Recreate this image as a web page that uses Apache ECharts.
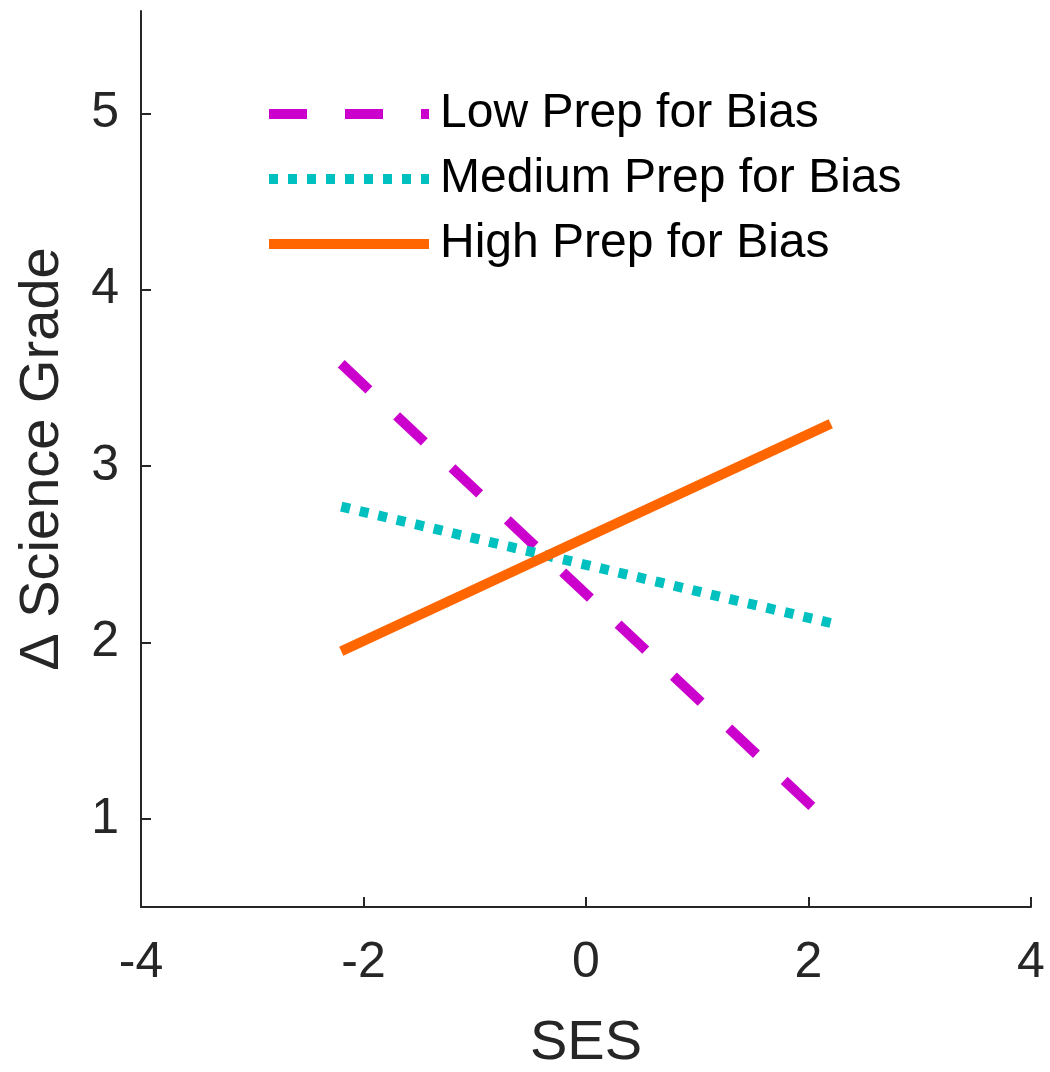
<!DOCTYPE html>
<html>
<head>
<meta charset="utf-8">
<script src="https://cdn.jsdelivr.net/npm/echarts@6/dist/echarts.min.js"></script>
<style>
html,body{margin:0;padding:0;background:#fff;}
#chart{width:1050px;height:1072px;}
</style>
</head>
<body>
<div id="chart"></div>
<script>
// Data
var ses = [-2.2, 2.2];
var lowPrep = [3.58, 0.97];
var mediumPrep = [2.77, 2.11];
var highPrep = [1.95, 3.24];
var seriesNames = ['Low Prep for Bias', 'Medium Prep for Bias', 'High Prep for Bias'];
var xTicks = [-4, -2, 0, 2, 4];
var yTicks = [1, 2, 3, 4, 5];

function pairs(xs, ys) {
  return xs.map(function (x, i) { return [x, ys[i]]; });
}

var FONT = '"Liberation Sans", Arial, Helvetica, sans-serif';
var AXIS_COLOR = '#262626';

var chart = echarts.init(document.getElementById('chart'), null, {renderer: 'canvas'});
chart.setOption({
  animation: false,
  backgroundColor: '#ffffff',
  grid: {left: 141, right: 19, top: 11, bottom: 165, containLabel: false, outerBoundsMode: 'none'},
  legend: {
    orient: 'vertical',
    left: 264,
    top: 90,
    padding: 0,
    itemWidth: 160,
    itemHeight: 10,
    itemGap: 17,
    itemStyle: {opacity: 0},
    lineStyle: {width: 10},
    textStyle: {fontFamily: FONT, fontSize: 48, color: '#000000', padding: [0, 0, 0, 6]},
    data: seriesNames
  },
  xAxis: {
    type: 'value',
    min: -4,
    max: 4,
    interval: 2,
    name: 'SES',
    nameLocation: 'middle',
    nameGap: 109,
    nameTextStyle: {fontFamily: FONT, fontSize: 56, color: AXIS_COLOR},
    axisLine: {show: true, onZero: false, lineStyle: {color: AXIS_COLOR, width: 2}},
    axisTick: {show: true, inside: true, length: 10, lineStyle: {color: AXIS_COLOR, width: 2}, customValues: xTicks},
    axisLabel: {fontFamily: FONT, fontSize: 50, color: AXIS_COLOR, margin: 31, customValues: xTicks},
    splitLine: {show: false}
  },
  yAxis: {
    type: 'value',
    min: 0.5,
    max: 5.58,
    name: '\u0394 Science Grade',
    nameLocation: 'middle',
    nameGap: 70,
    nameTextStyle: {fontFamily: FONT, fontSize: 56, color: AXIS_COLOR},
    axisLine: {show: true, onZero: false, lineStyle: {color: AXIS_COLOR, width: 2}},
    axisTick: {show: true, inside: true, length: 10, lineStyle: {color: AXIS_COLOR, width: 2}, customValues: yTicks},
    axisLabel: {fontFamily: FONT, fontSize: 50, color: AXIS_COLOR, margin: 22, customValues: yTicks},
    splitLine: {show: false}
  },
  series: [
    {
      name: seriesNames[0], type: 'line', symbol: 'none', silent: true,
      data: pairs(ses, lowPrep),
      lineStyle: {color: '#CC00CC', width: 10, type: [38, 38], cap: 'butt'},
      itemStyle: {color: '#CC00CC'}
    },
    {
      name: seriesNames[1], type: 'line', symbol: 'none', silent: true,
      data: pairs(ses, mediumPrep),
      lineStyle: {color: '#00C0C0', width: 10, type: [9, 10], cap: 'butt'},
      itemStyle: {color: '#00C0C0'}
    },
    {
      name: seriesNames[2], type: 'line', symbol: 'none', silent: true,
      data: pairs(ses, highPrep),
      lineStyle: {color: '#FF6600', width: 10, type: 'solid', cap: 'butt'},
      itemStyle: {color: '#FF6600'}
    }
  ]
});
</script>
</body>
</html>
